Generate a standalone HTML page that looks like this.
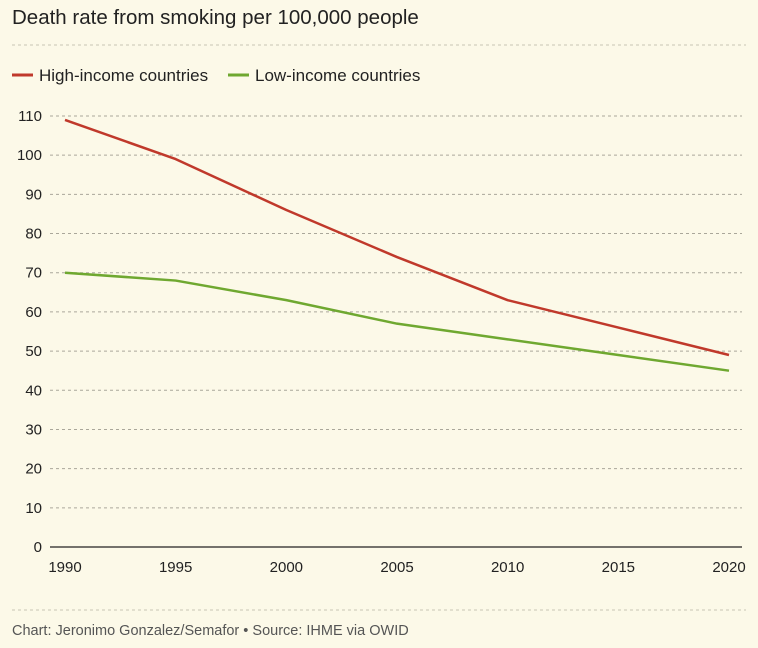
<!DOCTYPE html>
<html><head><meta charset="utf-8"><style>
body{margin:0;background:#fcf9e8;}
svg{display:block;font-family:"Liberation Sans",sans-serif;}
</style></head><body>
<svg id="chart" width="758" height="648" viewBox="0 0 758 648">
<rect width="758" height="648" fill="#fcf9e8"/>
<text x="12" y="24" font-size="20.5" fill="#222">Death rate from smoking per 100,000 people</text>
<line x1="12" y1="45" x2="746" y2="45" stroke="#c8c5b5" stroke-dasharray="3,3"/>
<g>
<g><line x1="12" y1="75" x2="33" y2="75" stroke="#c0392b" stroke-width="3"/><text x="39" y="81" font-size="17" fill="#222">High-income countries</text></g>
<g><line x1="228" y1="75" x2="249" y2="75" stroke="#6fa830" stroke-width="3"/><text x="255" y="81" font-size="17" fill="#222">Low-income countries</text></g>
</g>
<g id="grid"></g>
<g id="yticks"></g>
<g id="xticks"></g>
<g id="series"></g>
<line x1="12" y1="610" x2="746" y2="610" stroke="#c8c5b5" stroke-dasharray="3,3"/>
<text x="12" y="635" font-size="14.5" fill="#555">Chart: Jeronimo Gonzalez/Semafor • Source: IHME via OWID</text>
</svg>
<script>
const years=[1990,1995,2000,2005,2010,2015,2020];
const highIncome=[109,99,86,74,63,56,49];
const lowIncome=[70,68,63,57,53,49,45];
const yTicks=[0,10,20,30,40,50,60,70,80,90,100,110];
const xTicks=[1990,1995,2000,2005,2010,2015,2020];
const NS="http://www.w3.org/2000/svg";
const X=v=>65+(v-1990)/30*664;
const Y=v=>547-v/110*431;
function mk(t,a,p){const e=document.createElementNS(NS,t);for(const k in a)e.setAttribute(k,a[k]);p.appendChild(e);return e;}
const grid=document.getElementById('grid'),yg=document.getElementById('yticks'),xg=document.getElementById('xticks'),sg=document.getElementById('series');
yTicks.forEach(v=>{
 const l=mk('line',{x1:50,x2:742,y1:Y(v),y2:Y(v),stroke:v===0?'#222':'#aaa79a','stroke-width':v===0?1.3:1,'stroke-dasharray':v===0?'':'3,3'},grid);
 
 
 const t=mk('text',{x:42,y:Y(v)+5,'text-anchor':'end','font-size':15,fill:'#222'},yg);
 t.textContent=v;
 
 
});
xTicks.forEach(v=>{
 const t=mk('text',{x:X(v),y:572,'text-anchor':'middle','font-size':15,fill:'#222'},xg);
 t.textContent=v;
 
 
});
function line(vals,color,name){
 const p=mk('polyline',{points:vals.map((v,i)=>X(years[i])+','+Y(v)).join(' '),fill:'none',stroke:color,'stroke-width':2.5,'stroke-linejoin':'round'},sg);
 
 
}
line(lowIncome,'#6fa830','low-income-line');
line(highIncome,'#c0392b','high-income-line');
</script>
</body></html>
